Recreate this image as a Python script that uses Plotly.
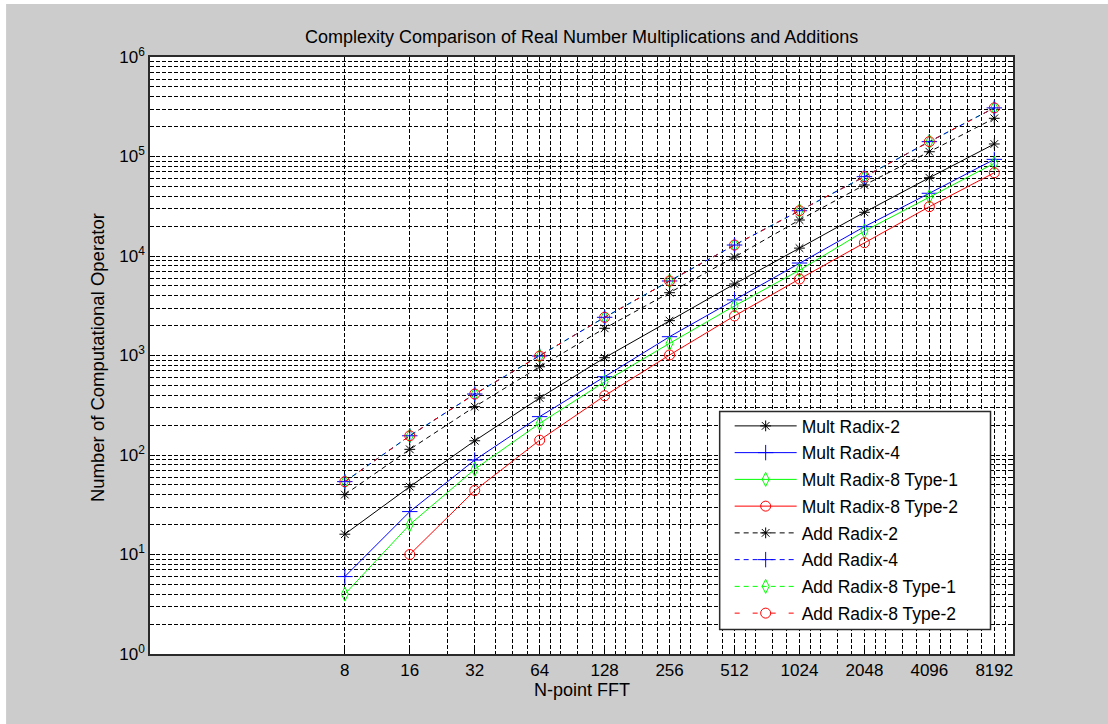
import plotly.graph_objects as go

# ---------------- data ----------------
N = [8, 16, 32, 64, 128, 256, 512, 1024, 2048, 4096, 8192]
N_tick_labels = ["8", "16", "32", "64", "128", "256", "512", "1024", "2048", "4096", "8192"]
N_type2 = [16, 32, 64, 128, 256, 512, 1024, 2048, 4096, 8192]

mult_radix2 = [16, 48, 139, 374, 950, 2240, 5230, 12000, 27500, 61200, 133600]
mult_radix4 = [6, 27, 89, 243, 612, 1545, 3620, 8500, 19700, 42700, 93600]
mult_radix8_t1 = [4, 20, 72, 208, 545, 1325, 3150, 7200, 17800, 39400, 85500]
mult_radix8_t2 = [10, 44, 141, 394, 1012, 2500, 5870, 13600, 31300, 68700]

add_radix2 = [40, 114, 306, 771, 1876, 4277, 9770, 23000, 51700, 111700, 242000]
add_radix4 = [54, 156, 410, 988, 2420, 5610, 12890, 28500, 62700, 141000, 308000]
add_radix8_t1 = [54, 156, 410, 988, 2420, 5610, 12890, 28500, 62700, 141000, 308000]
add_radix8_t2 = [54, 156, 410, 988, 2420, 5610, 12890, 28500, 62700, 141000, 308000]

y_tick_vals = [1, 10, 100, 1000, 10000, 100000, 1000000]
y_tick_text = ["10<sup>0</sup>", "10<sup>1</sup>", "10<sup>2</sup>", "10<sup>3</sup>",
               "10<sup>4</sup>", "10<sup>5</sup>", "10<sup>6</sup>"]

title_text = "Complexity Comparison of Real Number Multiplications and Additions"
x_title = "N-point FFT"
y_title = "Number of Computational Operator"

# ---------------- styling ----------------
FONT = "Liberation Sans, Arial, Helvetica, sans-serif"
BLACK, BLUE, GREEN, RED = "#000000", "#0000FF", "#00FF00", "#FF0000"
GRID = "#000000"
FRAME = "#2a2a2a"

# minor grid positions (octave subdivisions seen in the reference)
x_minor = [24, 40, 48, 56]
b = 64
while b <= 8192:
    for f in (1.125, 1.25, 1.5, 1.75):
        if b * f < 10000:
            x_minor.append(b * f)
    b *= 2
y_minor = [m * 10 ** k for k in range(6) for m in range(2, 10)]

fig = go.Figure()

def add(x, y, name, color, symbol, size, dash, group):
    fig.add_trace(go.Scatter(
        x=x, y=y, name=name, mode="lines+markers", legendgroup=group,
        line=dict(color=color, width=1, dash=dash),
        marker=dict(symbol=symbol, size=size, color=color,
                    line=dict(color=color, width=1)),
    ))

add(N, mult_radix2, "Mult Radix-2", BLACK, "asterisk-open", 9, "solid", "g1")
add(N, mult_radix4, "Mult Radix-4", BLUE, "cross-thin-open", 11, "solid", "g2")
add(N, mult_radix8_t1, "Mult Radix-8 Type-1", GREEN, "diamond-tall-open", 10, "solid", "g3")
add(N_type2, mult_radix8_t2, "Mult Radix-8 Type-2", RED, "circle-open", 10, "solid", "g4")
add(N, add_radix2, "Add Radix-2", BLACK, "asterisk-open", 9, "5px,4px", "g5")
add(N, add_radix8_t1, "Add Radix-8 Type-1", GREEN, "diamond-tall-open", 10, "5px,4px", "g7")
add(N, add_radix4, "Add Radix-4", BLUE, "cross-thin-open", 11, "5px,4px", "g6")
add(N, add_radix8_t2, "Add Radix-8 Type-2", RED, "circle-open", 10, "5px,13px", "g8")

# keep legend order as in the reference
order = ["Mult Radix-2", "Mult Radix-4", "Mult Radix-8 Type-1", "Mult Radix-8 Type-2",
         "Add Radix-2", "Add Radix-4", "Add Radix-8 Type-1", "Add Radix-8 Type-2"]
for tr in fig.data:
    tr.legendrank = order.index(tr.name) + 1

# geometry (pixels)
L, R, T, B = 150, 1013.5, 57, 654
W, H = R - L, B - T
def px(xp): return (xp - L) / W
def py(yp): return (B - yp) / H

axis_common = dict(
    showline=True, linecolor=FRAME, linewidth=1.5, mirror="allticks",
    ticks="inside", ticklen=5, tickcolor="black",
    showgrid=True, gridcolor=GRID, gridwidth=1, griddash="4px,2px",
    tickfont=dict(family=FONT, size=17, color="black"),
    zeroline=False,
)

fig.update_xaxes(type="log", range=[0, 4], tickmode="array", tickvals=N, ticktext=N_tick_labels,
                 minor=dict(tickmode="array", tickvals=x_minor, showgrid=True, gridcolor=GRID,
                            griddash="4px,2px", gridwidth=1, ticks="inside", ticklen=3,
                            tickcolor="black"),
                 **axis_common)
fig.update_yaxes(type="log", range=[0, 6], tickmode="array", tickvals=y_tick_vals, ticktext=y_tick_text,
                 minor=dict(tickmode="array", tickvals=y_minor, showgrid=True, gridcolor=GRID,
                            griddash="4px,2px", gridwidth=1, ticks="inside", ticklen=3,
                            tickcolor="black"),
                 **axis_common)

shapes = [
    # thin white strips at top and left of the grey figure window
    dict(type="rect", xref="paper", yref="paper", x0=px(-5), x1=px(1120), y0=py(4), y1=py(-5),
         fillcolor="white", line=dict(width=0), layer="below"),
    dict(type="rect", xref="paper", yref="paper", x0=px(-5), x1=px(6), y0=py(730), y1=py(-5),
         fillcolor="white", line=dict(width=0), layer="below"),
    # legend box (opaque, covers grid and curves)
    dict(type="rect", xref="paper", yref="paper", x0=px(720), x1=px(991), y0=py(629.5), y1=py(411.5),
         fillcolor="white", line=dict(color=FRAME, width=1.5), layer="above"),
]

annotations = [
    dict(text=title_text, xref="paper", yref="paper", x=0.5, y=py(37), xanchor="center",
         yanchor="middle", showarrow=False, font=dict(family=FONT, size=18, color="black")),
    dict(text=x_title, xref="paper", yref="paper", x=0.5, y=py(690), xanchor="center",
         yanchor="middle", showarrow=False, font=dict(family=FONT, size=18, color="black")),
    dict(text=y_title, xref="paper", yref="paper", x=px(97), y=py(358), xanchor="center",
         yanchor="middle", textangle=-90, showarrow=False,
         font=dict(family=FONT, size=18.5, color="black")),
]

fig.update_layout(
    width=1108, height=724,
    margin=dict(l=L, r=1108 - R, t=T, b=724 - B, autoexpand=False),
    paper_bgcolor="#CCCCCC", plot_bgcolor="white",
    showlegend=True,
    legend=dict(x=px(730), y=py(408), xanchor="left", yanchor="top",
                bgcolor="rgba(0,0,0,0)", borderwidth=0,
                font=dict(family=FONT, size=17.5, color="black"),
                itemwidth=62, traceorder="grouped", tracegroupgap=1),
    shapes=shapes, annotations=annotations,
)

fig.write_html("out.html")
